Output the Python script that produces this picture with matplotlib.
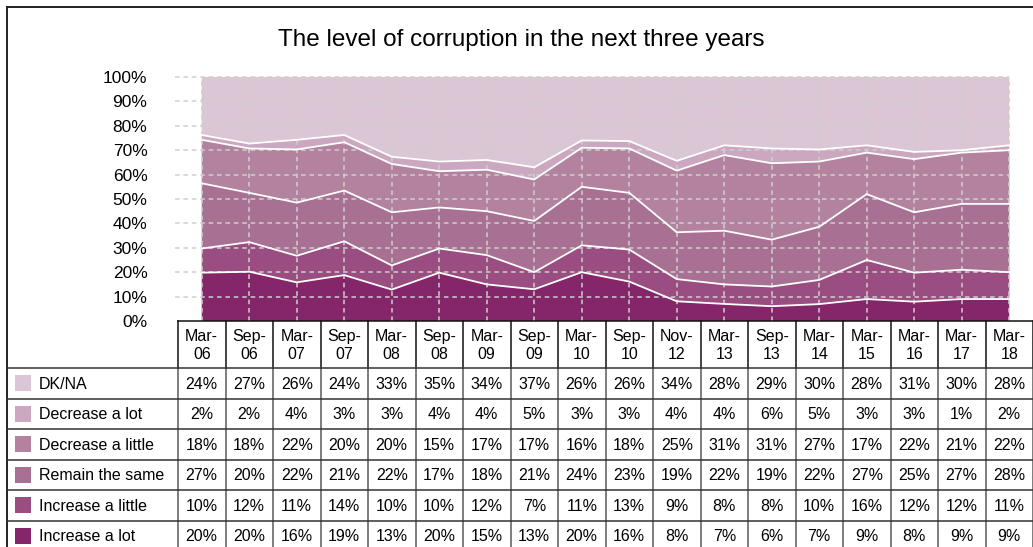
import matplotlib
matplotlib.use("Agg")
import matplotlib.pyplot as plt
import numpy as np
from matplotlib.lines import Line2D
from matplotlib.patches import Rectangle

plt.rcParams["font.family"] = ["Liberation Sans Narrow", "Liberation Sans", "DejaVu Sans"]

periods = ["Mar-\n06", "Sep-\n06", "Mar-\n07", "Sep-\n07", "Mar-\n08", "Sep-\n08",
           "Mar-\n09", "Sep-\n09", "Mar-\n10", "Sep-\n10", "Nov-\n12", "Mar-\n13",
           "Sep-\n13", "Mar-\n14", "Mar-\n15", "Mar-\n16", "Mar-\n17", "Mar-\n18"]

# bottom-to-top stacking order
increase_lot = [20, 20, 16, 19, 13, 20, 15, 13, 20, 16, 8, 7, 6, 7, 9, 8, 9, 9]
increase_little = [10, 12, 11, 14, 10, 10, 12, 7, 11, 13, 9, 8, 8, 10, 16, 12, 12, 11]
remain_same = [27, 20, 22, 21, 22, 17, 18, 21, 24, 23, 19, 22, 19, 22, 27, 25, 27, 28]
decrease_little = [18, 18, 22, 20, 20, 15, 17, 17, 16, 18, 25, 31, 31, 27, 17, 22, 21, 22]
decrease_lot = [2, 2, 4, 3, 3, 4, 4, 5, 3, 3, 4, 4, 6, 5, 3, 3, 1, 2]
dk_na = [24, 27, 26, 24, 33, 35, 34, 37, 26, 26, 34, 28, 29, 30, 28, 31, 30, 28]

series_names = ["Increase a lot", "Increase a little", "Remain the same",
                "Decrease a little", "Decrease a lot", "DK/NA"]
series_colors = ["#85256a", "#994d80", "#a87193", "#b3829f", "#cca8c0", "#dac6d4"]
series = [increase_lot, increase_little, remain_same, decrease_little, decrease_lot, dk_na]

W, H = 1033, 547


def fx(x):
    return x / W


def fy(y):
    return 1 - y / H


fig = plt.figure(figsize=(W / 100, H / 100), dpi=100)

col_left, col_w = 178, 47.5
n = len(periods)
y_top, y_zero = 77, 321

# 100% stacked: each period scaled to its own total
vals = np.array(series, dtype=float)
shares = vals / vals.sum(axis=0) * 100

ax = fig.add_axes([fx(col_left), fy(y_zero), fx(col_w * n), (y_zero - y_top) / H])
x = np.arange(n)
ax.stackplot(x, *shares, colors=series_colors, lw=0, zorder=1)
ax.set_xlim(-0.5, n - 0.5)
ax.set_ylim(0, 100)

# dashed grid on top of the areas
grid_kw = dict(color="#cfcfcf", lw=1.1, ls=(0, (3, 2.5)), zorder=3)
for v in range(10, 101, 10):
    ax.add_line(Line2D([-0.57, n - 1], [v, v], clip_on=False, **grid_kw))
for xi in x:
    ax.add_line(Line2D([xi, xi], [0, 100], **grid_kw))

# white separators between layers
cum = np.cumsum(shares, axis=0)
for row in cum[:-1]:
    ax.plot(x, row, color="white", lw=1.3, zorder=4)

ax.set_yticks(range(0, 101, 10))
ax.set_yticklabels([f"{v}%" for v in range(0, 101, 10)], fontsize=12.5)
ax.tick_params(axis="y", length=0, pad=22)
ax.set_xticks([])
for s in ax.spines.values():
    s.set_visible(False)
ax.patch.set_alpha(0)

fig.text(fx(521), fy(40), "The level of corruption in the next three years",
         ha="center", va="center", fontsize=17.5)

# outer frame
fig.add_artist(Line2D([fx(7), fx(7)], [fy(7), fy(H + 5)], color="#222222", lw=1.4))
fig.add_artist(Line2D([fx(7), fx(W + 5)], [fy(7), fy(7)], color="#222222", lw=1.4))

# data table
hdr_top, hdr_bot = 321, 368
row_h = 30.5
rows = list(reversed(range(len(series))))
right = col_left + col_w * n

for i in range(n + 1):
    xc = col_left + col_w * i
    fig.add_artist(Line2D([fx(xc), fx(xc)], [fy(hdr_top), fy(hdr_bot)], color="#111111", lw=1.1))
    fig.add_artist(Line2D([fx(xc), fx(xc)], [fy(hdr_bot), fy(H + 5)], color="#5a5a5a", lw=1.1))
fig.add_artist(Line2D([fx(col_left), fx(right)], [fy(hdr_top), fy(hdr_top)], color="#111111", lw=1.1))
for r in range(len(series) + 1):
    yy = hdr_bot + row_h * r
    fig.add_artist(Line2D([fx(7), fx(right)], [fy(yy), fy(yy)], color="#333333", lw=1.1))

for i, lab in enumerate(periods):
    fig.text(fx(col_left + col_w * (i + 0.5)), fy((hdr_top + hdr_bot) / 2 + 1), lab,
             ha="center", va="center", fontsize=11.5, linespacing=1.25)

for r, si in enumerate(rows):
    yc = hdr_bot + row_h * (r + 0.5)
    fig.add_artist(Rectangle((fx(15), fy(yc + 8)), fx(16), 16 / H,
                             color=series_colors[si], lw=0))
    fig.text(fx(39), fy(yc + 1), series_names[si], ha="left", va="center", fontsize=11.5)
    for i, v in enumerate(series[si]):
        fig.text(fx(col_left + col_w * (i + 0.5)), fy(yc + 1), f"{v}%",
                 ha="center", va="center", fontsize=11.5)

fig.savefig("out.png", dpi=100)
